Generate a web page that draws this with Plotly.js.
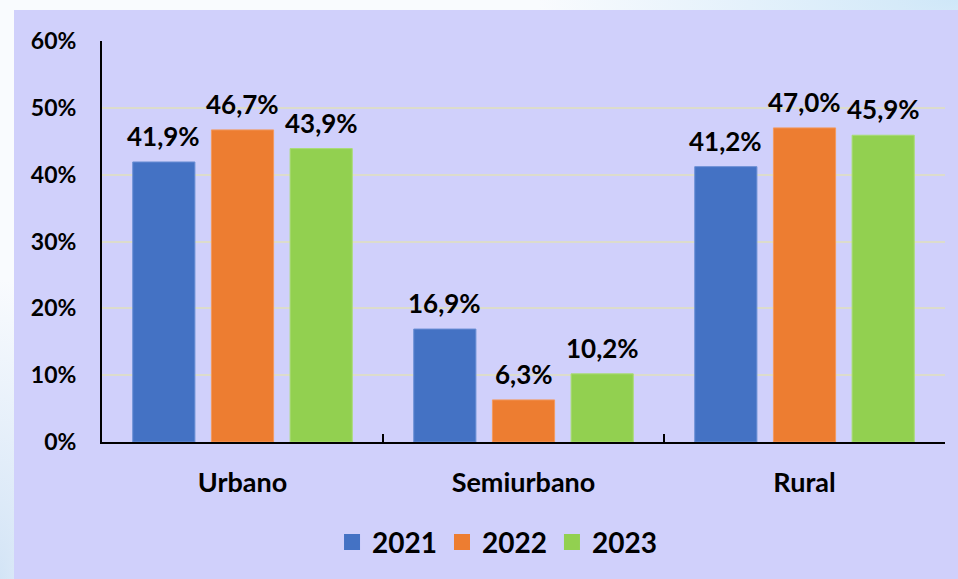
<!DOCTYPE html>
<html>
<head>
<meta charset="utf-8">
<script src="https://cdn.plot.ly/plotly-3.0.1.min.js"></script>
<style>
  html, body { margin: 0; padding: 0; }
  body {
    width: 958px; height: 579px; overflow: hidden; position: relative;
    background:
      radial-gradient(ellipse 420px 120px at 100% 0%, #cfe7f8 0%, rgba(255,255,255,0) 100%),
      radial-gradient(ellipse 90px 300px at 0% 100%, #d3e4f6 0%, rgba(255,255,255,0) 100%),
      #f9fbfe;
  }
  #chart { position: absolute; left: 14px; top: 10px; width: 944px; height: 569px; }
</style>
</head>
<body>
<div id="chart"></div>
<script>
const categories = ['Urbano', 'Semiurbano', 'Rural'];
const years = ['2021', '2022', '2023'];
const values2021 = [41.9, 16.9, 41.2];
const values2022 = [46.7, 6.3, 47.0];
const values2023 = [43.9, 10.2, 45.9];
const yTicks = [0, 10, 20, 30, 40, 50, 60];
const yTickLabels = ['0%', '10%', '20%', '30%', '40%', '50%', '60%'];

const seriesValues = [values2021, values2022, values2023];
const colors = ['#4472C4', '#ED7D31', '#92D050'];
const edgeColors = ['#6a8fd4', '#f29a60', '#a9dc74'];
const bargap = 0.16, bargroupgap = 0.21;

const fontFam = 'Lato, "Open Sans", sans-serif';
const traces = [];
const annotations = [];
const slot = (1 - bargap) / years.length;

seriesValues.forEach((vals, k) => {
  traces.push({
    type: 'bar', name: years[k], x: categories, y: vals,
    marker: { color: colors[k], line: { color: edgeColors[k], width: 1 } },
    showlegend: false, hoverinfo: 'skip'
  });
  traces.push({
    type: 'scatter', mode: 'markers', name: years[k],
    x: [categories[0]], y: [null],
    marker: { symbol: 'square', size: 16, color: colors[k] },
    showlegend: true, hoverinfo: 'skip'
  });
  vals.forEach((v, i) => {
    annotations.push({
      xref: 'x', yref: 'y', x: i + (k - (years.length - 1) / 2) * slot, y: v,
      text: v.toFixed(1).replace('.', ',') + '%',
      showarrow: false, yanchor: 'bottom', xanchor: 'center', yshift: 8,
      font: { family: fontFam, size: 26, color: '#000', weight: 700 }
    });
  });
});

const layout = {
  width: 944, height: 569,
  margin: { l: 88, r: 13, t: 31, b: 135 },
  paper_bgcolor: '#d0d0fb', plot_bgcolor: 'rgba(0,0,0,0)',
  barmode: 'group', bargap: bargap, bargroupgap: bargroupgap,
  font: { family: fontFam, color: '#000', weight: 700 },
  xaxis: {
    type: 'category', showline: true, linecolor: '#000', linewidth: 2,
    ticks: 'inside', tickson: 'boundaries', ticklen: 8, tickwidth: 2, tickcolor: '#000',
    tickfont: { family: fontFam, size: 27, color: '#000', weight: 700 },
    ticklabelstandoff: 16, showgrid: false, fixedrange: true
  },
  yaxis: {
    range: [0, 60], tickmode: 'array', tickvals: yTicks, ticktext: yTickLabels,
    showline: true, linecolor: '#000', linewidth: 2,
    showgrid: true, gridcolor: '#dcdccc', gridwidth: 2, zeroline: false,
    ticks: '', ticklabelstandoff: 19,
    tickfont: { family: fontFam, size: 23, color: '#000', weight: 700 },
    fixedrange: true
  },
  legend: {
    orientation: 'h', x: 0.4686, xanchor: 'center', y: -0.25, yanchor: 'middle',
    font: { family: fontFam, size: 28, color: '#000', weight: 700 },
    bgcolor: 'rgba(0,0,0,0)', itemclick: false, itemdoubleclick: false
  },
  annotations: annotations,
  showlegend: true
};

Plotly.newPlot('chart', traces, layout, { staticPlot: true, displayModeBar: false });
</script>
</body>
</html>
